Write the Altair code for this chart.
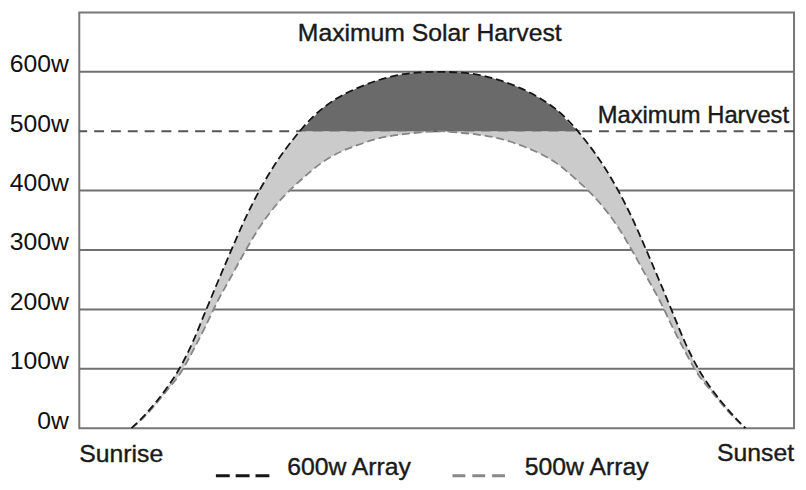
import altair as alt
import pandas as pd

# time position along the day (0 = left edge, 100 = right edge of the plot)
t = [7.3, 9.0, 10.8, 12.5, 14.0, 15.8, 17.6, 19.4, 21.1, 23.3, 25.2, 27.7, 30.1, 31.2,
     33.7, 36.0, 38.8, 41.6, 45.3, 47.8, 50.3, 52.8, 55.3, 59.0, 61.8, 64.5, 66.9,
     69.4, 70.5, 72.9, 75.4, 77.3, 79.5, 81.2, 83.0, 84.8, 86.6, 88.1, 89.8, 91.6, 93.2]
w600 = [0, 20, 45, 72, 100, 143, 195, 247, 295, 355, 400, 450, 489, 505, 535, 555, 572,
        585, 596, 599, 600, 599, 596, 585, 572, 555, 535, 505, 489, 450, 400, 355, 295,
        247, 195, 143, 100, 72, 45, 20, 0]
w500 = [0, 18, 42, 67, 90, 128, 170, 215, 252, 300, 338, 378, 408, 420, 445, 462, 476,
        487, 495, 498, 500, 498, 495, 487, 476, 462, 445, 420, 408, 378, 338, 300, 252,
        215, 170, 128, 90, 67, 42, 18, 0]
y_ticks = [0, 100, 200, 300, 400, 500, 600]
grid_vals = [100, 200, 300, 400, 600]
max_harvest = 500

FONT = "Liberation Sans"
TXT = "#1a1a1a"

df = pd.DataFrame({"t": t, "w600": w600, "w500": w500})
grid_df = pd.DataFrame({"v": grid_vals})
mh_df = pd.DataFrame({"v": [max_harvest]})

xs = alt.X("t:Q", scale=alt.Scale(domain=[0, 100]), axis=None)
ys = alt.Scale(domain=[0, 700])

yaxis = alt.Axis(values=y_ticks, labelExpr="datum.value + 'w'", grid=False, ticks=False,
                 domain=False, labelFont=FONT, labelFontSize=25, labelColor="#111111",
                 labelBaseline="alphabetic", labelPadding=11, title=None)

base = alt.Chart(df)

grid = alt.Chart(grid_df).mark_rule(color="#707070", strokeWidth=2).encode(
    y=alt.Y("v:Q", scale=ys, axis=yaxis))

mh_line = alt.Chart(mh_df).mark_rule(color="#555555", strokeWidth=2, strokeDash=[10, 7]).encode(
    y=alt.Y("v:Q", scale=ys))

light = base.transform_calculate(top="min(datum.w600, 500)").mark_area(
    color="#cbcbcb", interpolate="monotone", opacity=1).encode(
    x=xs, y=alt.Y("w500:Q", scale=ys), y2="top:Q")

dark = base.transform_calculate(top="max(datum.w600, 500)", bot="500").mark_area(
    color="#6a6a6a", interpolate="monotone", opacity=1).encode(
    x=xs, y=alt.Y("bot:Q", scale=ys), y2="top:Q")

line600 = base.mark_line(color="#151515", strokeWidth=1.8, strokeDash=[8, 4],
                         interpolate="monotone").encode(x=xs, y=alt.Y("w600:Q", scale=ys))
line500 = base.mark_line(color="#858585", strokeWidth=1.8, strokeDash=[8, 4],
                         interpolate="monotone").encode(x=xs, y=alt.Y("w500:Q", scale=ys))

def txt(s, x, y, align="left", size=25):
    return alt.Chart(pd.DataFrame({"s": [s]})).mark_text(
        font=FONT, fontSize=size, color=TXT, align=align, baseline="alphabetic",
        stroke=TXT, strokeWidth=0.4).encode(
        text="s:N", x=alt.value(x), y=alt.value(y))

title = txt("Maximum Solar Harvest", 354, 29, "center", 25)
mh_text = txt("Maximum Harvest", 717, 112, "right", 24)
sunrise = txt("Sunrise", 0, 454, "left", 25)
sunset = txt("Sunset", 722, 453, "right", 25)
leg1_text = txt("600w Array", 210, 467, "left", 25)
leg2_text = txt("500w Array", 450, 467, "left", 25)

leg1 = alt.Chart(mh_df).mark_rule(color="#151515", strokeWidth=3, strokeDash=[14, 6]).encode(
    x=alt.value(138), x2=alt.value(197), y=alt.value(468))
leg2 = alt.Chart(mh_df).mark_rule(color="#888888", strokeWidth=3, strokeDash=[13, 7]).encode(
    x=alt.value(377), x2=alt.value(435), y=alt.value(468))

chart = alt.layer(grid, mh_line, light, dark, line500, line600, title, mh_text,
                  sunrise, sunset, leg1, leg2, leg1_text, leg2_text).properties(
    width=722, height=420, autosize="none",
    padding={"left": 72, "top": 2, "right": 4, "bottom": 60},
).configure_view(stroke="#777777", strokeWidth=2)

chart.save("out.html", embed_options={"renderer": "svg", "actions": False})
